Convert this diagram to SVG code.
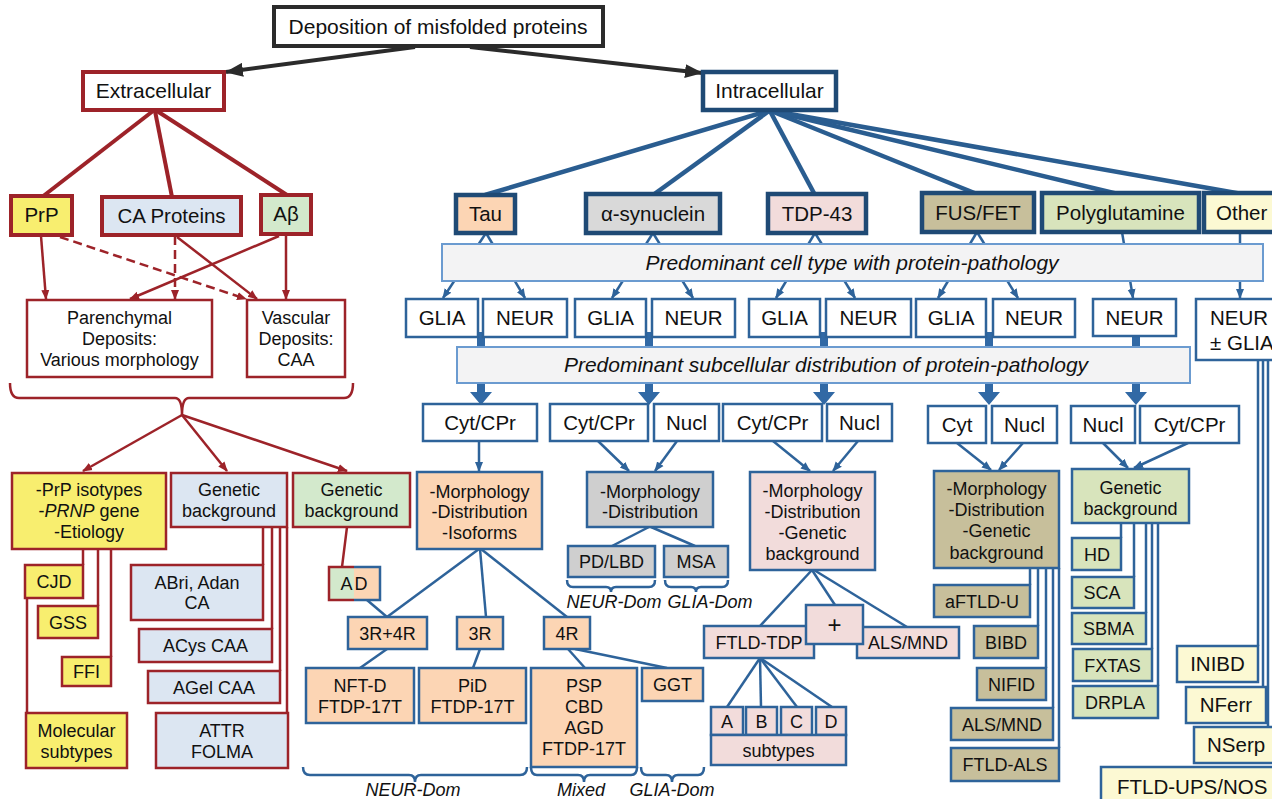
<svg xmlns="http://www.w3.org/2000/svg" width="1272" height="799" viewBox="0 0 1272 799">
<defs>
<style>
text{font-family:"Liberation Sans",Arial,Helvetica,sans-serif;fill:#111;text-anchor:middle}
.f18{font-size:18px}
.f20{font-size:20.5px}
.f21{font-size:21px}
.it{font-style:italic}
.st{text-anchor:start}
.rB{stroke:#9d2329;stroke-width:4}
.rb{stroke:#9d2329;stroke-width:2.5}
.bB{stroke:#1f4a75;stroke-width:4.5}
.bb{stroke:#2e639a;stroke-width:2.5}
.rl{stroke:#9d2329;stroke-width:2.5;fill:none}
.rL{stroke:#9d2329;stroke-width:4;fill:none}
.bl{stroke:#2e639a;stroke-width:2.5;fill:none}
.bL{stroke:#2a5d90;stroke-width:4.5;fill:none}
.bar{fill:#f3f3f4;stroke:#6b9bd0;stroke-width:2}
.w{fill:#fff}
.pea{fill:#fcd5b4}
.gry{fill:#d9d9d9}
.gr2{fill:#cfcfcf}
.pnk{fill:#f2dcdb}
.kha{fill:#c7bf9b}
.grn{fill:#d8e4bc}
.yel{fill:#fcf9d3}
.pry{fill:#f8ee6f}
.cab{fill:#dce6f2}
.abg{fill:#d3e9cc}
.thk{fill:#3169a5}
</style>
<marker id="ar" markerWidth="10" markerHeight="10" refX="9" refY="5" orient="auto" markerUnits="userSpaceOnUse"><path d="M0,1 L10,5 L0,9 z" fill="#9d2329"/></marker>
<marker id="ab" markerWidth="10" markerHeight="10" refX="9" refY="5" orient="auto" markerUnits="userSpaceOnUse"><path d="M0,1 L10,5 L0,9 z" fill="#2e639a"/></marker>
<marker id="ak" markerWidth="18" markerHeight="14" refX="17" refY="7" orient="auto" markerUnits="userSpaceOnUse"><path d="M0,0 L18,7 L0,14 z" fill="#2b2b2b"/></marker>
</defs>
<rect width="1272" height="799" fill="#fff"/>

<g id="connectors">
<line x1="415" y1="47" x2="226" y2="72" stroke="#2b2b2b" stroke-width="4" marker-end="url(#ak)"/>
<line x1="470" y1="47" x2="702" y2="73" stroke="#2b2b2b" stroke-width="4" marker-end="url(#ak)"/>
<line class="rL" x1="153" y1="111" x2="42" y2="197"/>
<line class="rL" x1="155" y1="111" x2="172" y2="197"/>
<line class="rL" x1="157" y1="111" x2="287" y2="195"/>
<line class="rl" x1="41" y1="236" x2="46" y2="299" marker-end="url(#ar)"/>
<line class="rl" x1="60" y1="237" x2="246" y2="299" stroke-dasharray="9,5" marker-end="url(#ar)"/>
<line class="rl" x1="175" y1="236" x2="175" y2="299" stroke-dasharray="9,5" marker-end="url(#ar)"/>
<line class="rl" x1="177" y1="237" x2="257" y2="299" marker-end="url(#ar)"/>
<line class="rl" x1="279" y1="236" x2="130" y2="299" marker-end="url(#ar)"/>
<line class="rl" x1="286" y1="235" x2="286" y2="299" marker-end="url(#ar)"/>
<path class="rl" stroke-width="3" d="M10,383 Q10,398 19,398 H175 Q182,398 182,415 Q182,398 189,398 H344 Q353,398 353,383"/>
<line class="rl" x1="182" y1="415" x2="83" y2="471" marker-end="url(#ar)"/>
<line class="rl" x1="182" y1="415" x2="227" y2="471" marker-end="url(#ar)"/>
<line class="rl" x1="182" y1="415" x2="347" y2="471" marker-end="url(#ar)"/>
<line class="rl" x1="83" y1="549" x2="83" y2="565"/>
<line class="rl" x1="98" y1="549" x2="98" y2="606"/>
<line class="rl" x1="111" y1="549" x2="111" y2="657"/>
<line class="rl" x1="27" y1="598" x2="27" y2="713"/>
<line class="rl" x1="263" y1="527" x2="263" y2="565"/>
<line class="rl" x1="272" y1="527" x2="272" y2="629"/>
<line class="rl" x1="280" y1="527" x2="280" y2="671"/>
<line class="rl" x1="287" y1="527" x2="287" y2="713"/>
<line class="rl" x1="347" y1="527" x2="342" y2="567"/>
<line class="bL" x1="768" y1="111" x2="485" y2="195"/>
<line class="bL" x1="769" y1="111" x2="653" y2="195"/>
<line class="bL" x1="770" y1="111" x2="815" y2="195"/>
<line class="bL" x1="771" y1="111" x2="977" y2="194"/>
<line class="bL" x1="772" y1="111" x2="1118" y2="194"/>
<line class="bL" x1="773" y1="111" x2="1242" y2="194"/>
<line class="bl" x1="486" y1="233" x2="443" y2="298" marker-end="url(#ab)"/>
<line class="bl" x1="486" y1="233" x2="525" y2="298" marker-end="url(#ab)"/>
<line class="bl" x1="653" y1="233" x2="612" y2="298" marker-end="url(#ab)"/>
<line class="bl" x1="653" y1="233" x2="693" y2="298" marker-end="url(#ab)"/>
<line class="bl" x1="815" y1="233" x2="776" y2="298" marker-end="url(#ab)"/>
<line class="bl" x1="815" y1="233" x2="855" y2="298" marker-end="url(#ab)"/>
<line class="bl" x1="977" y1="232" x2="938" y2="298" marker-end="url(#ab)"/>
<line class="bl" x1="977" y1="232" x2="1018" y2="298" marker-end="url(#ab)"/>
<line class="bl" x1="1122" y1="232" x2="1133" y2="298" marker-end="url(#ab)"/>
<line class="bl" x1="1240" y1="232" x2="1240" y2="298" marker-end="url(#ab)"/>
<path class="thk" d="M477,332 h8 v60 h7 l-11,13 l-11,-13 h7 z"/>
<path class="thk" d="M645,332 h8 v60 h7 l-11,13 l-11,-13 h7 z"/>
<path class="thk" d="M820,332 h8 v60 h7 l-11,13 l-11,-13 h7 z"/>
<path class="thk" d="M985,332 h8 v60 h7 l-11,13 l-11,-13 h7 z"/>
<path class="thk" d="M1132,332 h8 v60 h7 l-11,13 l-11,-13 h7 z"/>
<line class="bl" x1="1258" y1="360" x2="1258" y2="646"/>
<line class="bl" x1="1263" y1="360" x2="1263" y2="687"/>
<line class="bl" x1="1268" y1="360" x2="1268" y2="727"/>
<line class="bl" x1="479" y1="441" x2="479" y2="471" marker-end="url(#ab)"/>
<line class="bl" x1="479" y1="549" x2="387" y2="617"/>
<line class="bl" x1="480" y1="549" x2="486" y2="617"/>
<line class="bl" x1="481" y1="549" x2="567" y2="617"/>
<line class="bl" x1="367" y1="600" x2="387" y2="617"/>
<line class="bl" x1="387" y1="649" x2="360" y2="668"/>
<line class="bl" x1="480" y1="649" x2="473" y2="668"/>
<line class="bl" x1="568" y1="649" x2="585" y2="668"/>
<line class="bl" x1="575" y1="649" x2="667" y2="668"/>
<line class="bl" x1="598" y1="441" x2="629" y2="471" marker-end="url(#ab)"/>
<line class="bl" x1="677" y1="441" x2="655" y2="471" marker-end="url(#ab)"/>
<line class="bl" x1="649" y1="527" x2="612" y2="546"/>
<line class="bl" x1="651" y1="527" x2="695" y2="546"/>
<path class="bl" d="M567,580 Q567,587 573,587 H606 Q611,587 611,592 Q611,587 616,587 H649 Q655,587 655,580"/>
<path class="bl" d="M665,580 Q665,587 671,587 H691 Q696,587 696,592 Q696,587 701,587 H722 Q728,587 728,580"/>
<line class="bl" x1="773" y1="441" x2="810" y2="471" marker-end="url(#ab)"/>
<line class="bl" x1="858" y1="441" x2="833" y2="471" marker-end="url(#ab)"/>
<line class="bl" x1="812" y1="570" x2="760" y2="626"/>
<line class="bl" x1="812" y1="570" x2="835" y2="605"/>
<line class="bl" x1="814" y1="570" x2="907" y2="627"/>
<line class="bl" x1="760" y1="658" x2="727" y2="707"/>
<line class="bl" x1="760" y1="658" x2="761" y2="707"/>
<line class="bl" x1="760" y1="658" x2="797" y2="707"/>
<line class="bl" x1="760" y1="658" x2="832" y2="707"/>
<line class="bl" x1="957" y1="443" x2="991" y2="470" marker-end="url(#ab)"/>
<line class="bl" x1="1023" y1="443" x2="999" y2="470" marker-end="url(#ab)"/>
<line class="bl" x1="1030" y1="568" x2="1030" y2="585"/>
<line class="bl" x1="1038" y1="568" x2="1038" y2="626"/>
<line class="bl" x1="1046" y1="568" x2="1046" y2="668"/>
<line class="bl" x1="1053" y1="568" x2="1053" y2="708"/>
<line class="bl" x1="1059" y1="568" x2="1059" y2="748"/>
<line class="bl" x1="1103" y1="443" x2="1128" y2="468" marker-end="url(#ab)"/>
<line class="bl" x1="1188" y1="443" x2="1134" y2="468" marker-end="url(#ab)"/>
<line class="bl" x1="1121" y1="523" x2="1121" y2="538"/>
<line class="bl" x1="1134" y1="523" x2="1134" y2="577"/>
<line class="bl" x1="1146" y1="523" x2="1146" y2="613"/>
<line class="bl" x1="1152" y1="523" x2="1152" y2="649"/>
<line class="bl" x1="1158" y1="523" x2="1158" y2="686"/>
<path class="bl" stroke-width="3" d="M303,767 Q303,775 310,775 H409 Q415,775 415,782 Q415,775 421,775 H520 Q527,775 527,767"/>
<path class="bl" stroke-width="3" d="M531,767 Q531,775 537,775 H578 Q584,775 584,782 Q584,775 590,775 H631 Q637,775 637,767"/>
<path class="bl" stroke-width="3" d="M641,767 Q641,775 647,775 H666 Q672,775 672,782 Q672,775 678,775 H698 Q704,775 704,767"/>
</g>

<g id="bars">
<rect class="bar" x="442" y="244" width="821" height="37"/>
<text class="f21 it" x="852" y="270">Predominant cell type with protein-pathology</text>
<rect class="bar" x="457" y="347" width="733" height="36"/>
<text class="f21 it" x="826" y="372">Predominant subcellular distribution of protein-pathology</text>
</g>

<g id="n-top"><rect x="274" y="7" width="329" height="39" fill="#fff" stroke="#2b2b2b" stroke-width="4"/><text class="f21" x="438" y="34">Deposition of misfolded proteins</text></g>
<g id="n-extra"><rect class="w rB" x="83" y="72" width="141" height="38"/><text class="f21" x="153.5" y="98">Extracellular</text></g>
<g id="n-intra"><rect class="w bB" x="703" y="72" width="133" height="38"/><text class="f21" x="769.5" y="98">Intracellular</text></g>

<g id="n-prp"><rect class="pry rB" x="11" y="196" width="61" height="39"/><text class="f20" x="41.5" y="222">PrP</text></g>
<g id="n-ca"><rect class="cab rB" x="102" y="197" width="139" height="38"/><text class="f20" x="171.5" y="223">CA Proteins</text></g>
<g id="n-ab"><rect class="abg rB" x="261" y="195" width="50" height="39"/><text class="f20" x="286" y="221">Aβ</text></g>

<g id="n-paren"><rect class="w rb" x="27" y="300" width="185" height="77"/><text class="f18" x="119.5" y="324">Parenchymal</text><text class="f18" x="119.5" y="345">Deposits:</text><text class="f18" x="119.5" y="366">Various morphology</text></g>
<g id="n-vasc"><rect class="w rb" x="247" y="300" width="98" height="77"/><text class="f18" x="296" y="324">Vascular</text><text class="f18" x="296" y="345">Deposits:</text><text class="f18" x="296" y="366">CAA</text></g>

<g id="n-prpiso"><rect class="pry rb" x="12" y="473" width="154" height="76"/><text class="f18" x="89" y="496">-PrP isotypes</text><text class="f18" x="89" y="517">-<tspan font-style="italic">PRNP</tspan> gene</text><text class="f18" x="89" y="538">-Etiology</text></g>
<g id="n-cagen"><rect class="cab rb" x="171" y="473" width="116" height="54"/><text class="f18" x="229" y="496">Genetic</text><text class="f18" x="229" y="517">background</text></g>
<g id="n-abgen"><rect class="abg rb" x="293" y="473" width="117" height="54"/><text class="f18" x="351.5" y="496">Genetic</text><text class="f18" x="351.5" y="517">background</text></g>

<g id="n-cjd"><rect class="pry rb" x="25" y="565" width="58" height="33"/><text class="f18" x="54" y="588">CJD</text></g>
<g id="n-gss"><rect class="pry rb" x="38" y="606" width="60" height="32"/><text class="f18" x="68" y="628.5">GSS</text></g>
<g id="n-ffi"><rect class="pry rb" x="62" y="657" width="49" height="29"/><text class="f18" x="86.5" y="678">FFI</text></g>
<g id="n-mol"><rect class="pry rb" x="26" y="713" width="101" height="55"/><text class="f18" x="76.5" y="737">Molecular</text><text class="f18" x="76.5" y="758">subtypes</text></g>

<g id="n-abri"><rect class="cab rb" x="131" y="565" width="132" height="55"/><text class="f18" x="197" y="589">ABri, Adan</text><text class="f18" x="197" y="609">CA</text></g>
<g id="n-acys"><rect class="cab rb" x="139" y="629" width="133" height="33"/><text class="f18" x="205.5" y="652">ACys CAA</text></g>
<g id="n-agel"><rect class="cab rb" x="148" y="671" width="132" height="32"/><text class="f18" x="214" y="693.5">AGel CAA</text></g>
<g id="n-attr"><rect class="cab rb" x="156" y="713" width="132" height="55"/><text class="f18" x="222" y="737">ATTR</text><text class="f18" x="222" y="758">FOLMA</text></g>

<g id="n-ad"><rect x="329" y="567" width="25" height="33" fill="#d3e9cc"/><rect x="354" y="567" width="26" height="33" fill="#fcd5b4"/><path class="rl" d="M354,567 H329 V600 H354"/><path class="bl" d="M354,567 H380 V600 H354"/><text class="f18" x="355" y="590" letter-spacing="2">AD</text></g>

<g id="n-tau"><rect class="pea bB" x="456" y="195" width="59" height="38"/><text class="f20" x="485.5" y="221">Tau</text></g>
<g id="n-asyn"><rect class="gry bB" x="586" y="194" width="134" height="39"/><text class="f20" x="653" y="220.5">α-synuclein</text></g>
<g id="n-tdp"><rect class="pnk bB" x="768" y="194" width="98" height="39"/><text class="f20" x="817" y="220.5">TDP-43</text></g>
<g id="n-fus"><rect class="kha bB" x="922" y="193" width="112" height="39"/><text class="f20" x="978" y="219.5">FUS/FET</text></g>
<g id="n-polyq"><rect class="grn bB" x="1042" y="193" width="157" height="39"/><text class="f20" x="1120.5" y="219.5">Polyglutamine</text></g>
<g id="n-other"><rect class="yel bB" x="1204" y="193" width="90" height="39"/><text class="f20 st" x="1216" y="219.5">Other</text></g>

<g id="n-glia1"><rect class="w bb" x="406" y="299" width="72" height="38"/><text class="f20" x="442" y="325">GLIA</text></g>
<g id="n-neur1"><rect class="w bb" x="483" y="299" width="84" height="38"/><text class="f20" x="525" y="325">NEUR</text></g>
<g id="n-glia2"><rect class="w bb" x="575" y="299" width="71" height="38"/><text class="f20" x="610.5" y="325">GLIA</text></g>
<g id="n-neur2"><rect class="w bb" x="652" y="299" width="83" height="38"/><text class="f20" x="693.5" y="325">NEUR</text></g>
<g id="n-glia3"><rect class="w bb" x="749" y="299" width="71" height="38"/><text class="f20" x="784.5" y="325">GLIA</text></g>
<g id="n-neur3"><rect class="w bb" x="826" y="299" width="85" height="38"/><text class="f20" x="868.5" y="325">NEUR</text></g>
<g id="n-glia4"><rect class="w bb" x="916" y="299" width="70" height="38"/><text class="f20" x="951" y="325">GLIA</text></g>
<g id="n-neur4"><rect class="w bb" x="993" y="299" width="82" height="38"/><text class="f20" x="1034" y="325">NEUR</text></g>
<g id="n-neur5"><rect class="w bb" x="1093" y="299" width="83" height="37"/><text class="f20" x="1134.5" y="325">NEUR</text></g>
<g id="n-neurglia"><rect class="w bb" x="1196" y="299" width="98" height="61"/><text class="f20 st" x="1210" y="325">NEUR</text><text class="f20 st" x="1210" y="350">± GLIA</text></g>

<g id="n-cyt1"><rect class="w bb" x="423" y="404" width="114" height="37"/><text class="f20" x="480" y="430">Cyt/CPr</text></g>
<g id="n-cyt2"><rect class="w bb" x="550" y="404" width="98" height="37"/><text class="f20" x="599" y="430">Cyt/CPr</text></g>
<g id="n-nucl2"><rect class="w bb" x="654" y="404" width="65" height="37"/><text class="f20" x="686.5" y="430">Nucl</text></g>
<g id="n-cyt3"><rect class="w bb" x="723" y="404" width="99" height="37"/><text class="f20" x="772.5" y="430">Cyt/CPr</text></g>
<g id="n-nucl3"><rect class="w bb" x="827" y="404" width="65" height="37"/><text class="f20" x="859.5" y="430">Nucl</text></g>
<g id="n-cyt4"><rect class="w bb" x="928" y="406" width="58" height="37"/><text class="f20" x="957" y="432">Cyt</text></g>
<g id="n-nucl4"><rect class="w bb" x="992" y="406" width="65" height="37"/><text class="f20" x="1024.5" y="432">Nucl</text></g>
<g id="n-nucl5"><rect class="w bb" x="1071" y="406" width="64" height="37"/><text class="f20" x="1103" y="432">Nucl</text></g>
<g id="n-cyt5"><rect class="w bb" x="1140" y="406" width="99" height="37"/><text class="f20" x="1189.5" y="432">Cyt/CPr</text></g>

<g id="n-taumorph"><rect class="pea bb" x="417" y="472" width="125" height="77"/><text class="f18" x="479.5" y="497.5">-Morphology</text><text class="f18" x="479.5" y="518">-Distribution</text><text class="f18" x="479.5" y="538.5">-Isoforms</text></g>
<g id="n-3r4r"><rect class="pea bb" x="348" y="617" width="79" height="32"/><text class="f18" x="387.5" y="639.5">3R+4R</text></g>
<g id="n-3r"><rect class="pea bb" x="457" y="617" width="46" height="32"/><text class="f18" x="480" y="639.5">3R</text></g>
<g id="n-4r"><rect class="pea bb" x="544" y="617" width="46" height="32"/><text class="f18" x="567" y="639.5">4R</text></g>
<g id="n-nftd"><rect class="pea bb" x="306" y="668" width="108" height="55"/><text class="f18" x="360" y="692">NFT-D</text><text class="f18" x="360" y="713">FTDP-17T</text></g>
<g id="n-pid"><rect class="pea bb" x="419" y="668" width="107" height="55"/><text class="f18" x="472.5" y="692">PiD</text><text class="f18" x="472.5" y="713">FTDP-17T</text></g>
<g id="n-psp"><rect class="pea bb" x="531" y="668" width="106" height="99"/><text class="f18" x="584" y="692">PSP</text><text class="f18" x="584" y="713">CBD</text><text class="f18" x="584" y="734">AGD</text><text class="f18" x="584" y="755">FTDP-17T</text></g>
<g id="n-ggt"><rect class="pea bb" x="642" y="668" width="61" height="33"/><text class="f18" x="672.5" y="691">GGT</text></g>
<g id="lbl-tau"><text class="f18 it" x="413" y="796">NEUR-Dom</text><text class="f18 it" x="581" y="796">Mixed</text><text class="f18 it" x="672" y="796">GLIA-Dom</text></g>

<g id="n-asynmorph"><rect class="gr2 bb" x="587" y="472" width="126" height="55"/><text class="f18" x="650" y="497.5">-Morphology</text><text class="f18" x="650" y="518">-Distribution</text></g>
<g id="n-pdlbd"><rect class="gr2 bb" x="568" y="546" width="87" height="31"/><text class="f18" x="611.5" y="568">PD/LBD</text></g>
<g id="n-msa"><rect class="gr2 bb" x="664" y="546" width="64" height="31"/><text class="f18" x="696" y="568">MSA</text></g>
<g id="lbl-asyn"><text class="f18 it" x="614" y="608">NEUR-Dom</text><text class="f18 it" x="710" y="608">GLIA-Dom</text></g>

<g id="n-tdpmorph"><rect class="pnk bb" x="750" y="472" width="125" height="98"/><text class="f18" x="812.5" y="497">-Morphology</text><text class="f18" x="812.5" y="517.5">-Distribution</text><text class="f18" x="812.5" y="538.5">-Genetic</text><text class="f18" x="812.5" y="560">background</text></g>
<g id="n-ftldtdp"><rect class="pnk bb" x="704" y="626" width="110" height="32"/><text class="f18" x="759" y="648.5">FTLD-TDP</text></g>
<g id="n-alsmnd1"><rect class="pnk bb" x="857" y="627" width="102" height="31"/><text class="f18" x="908" y="649">ALS/MND</text></g>
<g id="n-plus"><rect class="pnk bb" x="806" y="605" width="57" height="39"/><text x="834.5" y="633" font-size="24px">+</text></g>
<g id="n-a"><rect class="pnk bb" x="711" y="707" width="32" height="28"/><text class="f18" x="727" y="727.5">A</text></g>
<g id="n-b"><rect class="pnk bb" x="746" y="707" width="31" height="28"/><text class="f18" x="761.5" y="727.5">B</text></g>
<g id="n-c"><rect class="pnk bb" x="781" y="707" width="31" height="28"/><text class="f18" x="796.5" y="727.5">C</text></g>
<g id="n-d"><rect class="pnk bb" x="816" y="707" width="30" height="28"/><text class="f18" x="831" y="727.5">D</text></g>
<g id="n-subtypes"><rect class="pnk bb" x="711" y="735" width="135" height="30"/><text class="f18" x="778.5" y="756.5">subtypes</text></g>

<g id="n-fusmorph"><rect class="kha bb" x="934" y="471" width="125" height="97"/><text class="f18" x="996.5" y="495">-Morphology</text><text class="f18" x="996.5" y="516">-Distribution</text><text class="f18" x="996.5" y="537">-Genetic</text><text class="f18" x="996.5" y="559">background</text></g>
<g id="n-aftld"><rect class="kha bb" x="934" y="585" width="96" height="32"/><text class="f18" x="982" y="607.5">aFTLD-U</text></g>
<g id="n-bibd"><rect class="kha bb" x="974" y="626" width="64" height="32"/><text class="f18" x="1006" y="648.5">BIBD</text></g>
<g id="n-nifid"><rect class="kha bb" x="977" y="668" width="69" height="32"/><text class="f18" x="1011.5" y="690.5">NIFID</text></g>
<g id="n-alsmnd2"><rect class="kha bb" x="951" y="708" width="102" height="32"/><text class="f18" x="1002" y="730.5">ALS/MND</text></g>
<g id="n-ftldals"><rect class="kha bb" x="951" y="748" width="108" height="33"/><text class="f18" x="1005" y="771">FTLD-ALS</text></g>

<g id="n-polyqgen"><rect class="grn bb" x="1072" y="469" width="117" height="54"/><text class="f18" x="1130.5" y="494">Genetic</text><text class="f18" x="1130.5" y="515">background</text></g>
<g id="n-hd"><rect class="grn bb" x="1072" y="538" width="49" height="32"/><text class="f18" x="1097" y="560.5">HD</text></g>
<g id="n-sca"><rect class="grn bb" x="1072" y="577" width="62" height="31"/><text class="f18" x="1102" y="599">SCA</text></g>
<g id="n-sbma"><rect class="grn bb" x="1072" y="613" width="74" height="31"/><text class="f18" x="1108.5" y="635">SBMA</text></g>
<g id="n-fxtas"><rect class="grn bb" x="1073" y="649" width="79" height="32"/><text class="f18" x="1112.5" y="671.5">FXTAS</text></g>
<g id="n-drpla"><rect class="grn bb" x="1073" y="686" width="85" height="32"/><text class="f18" x="1115" y="708.5">DRPLA</text></g>

<g id="n-inibd"><rect class="yel bb" x="1177" y="646" width="81" height="36"/><text class="f20" x="1217.5" y="671">INIBD</text></g>
<g id="n-nferr"><rect class="yel bb" x="1186" y="687" width="80" height="36"/><text class="f20" x="1226" y="712">NFerr</text></g>
<g id="n-nserp"><rect class="yel bb" x="1194" y="727" width="100" height="36"/><text class="f20 st" x="1207" y="752">NSerp</text></g>
<g id="n-ftldups"><rect class="yel bb" x="1101" y="767" width="200" height="45"/><text class="f20 st" x="1117" y="794">FTLD-UPS/NOS</text></g>
</svg>
